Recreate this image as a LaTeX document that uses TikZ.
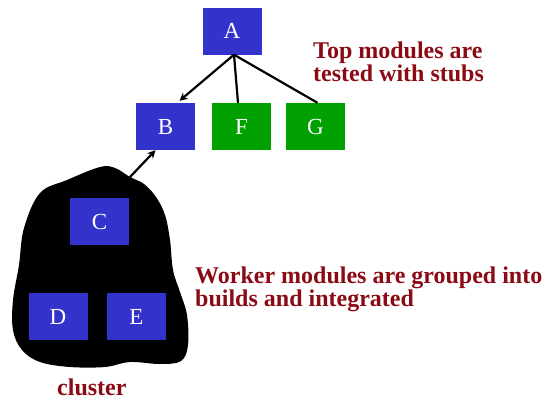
\documentclass[tikz,border=0pt]{standalone}
\usepackage{fontspec}
\setmainfont{Liberation Serif}
\usetikzlibrary{arrows.meta,positioning}
\definecolor{modblue}{HTML}{3333CC}
\definecolor{stubgreen}{HTML}{00A000}
\definecolor{notered}{HTML}{8B0A14}
\tikzset{
  modbox/.style={
    rectangle, fill=#1, text=white,
    minimum width=59pt, minimum height=47pt,
    font=\fontsize{23}{24}\selectfont, inner sep=0pt
  },
  modbox/.default=modblue,
  callline/.style={line width=2.2pt, color=black},
  callarrow/.style={-{Stealth[length=8pt,width=8pt]}, line width=2.2pt, color=black},
  note/.style={
    text=notered, font=\fontsize{24}{23}\selectfont\bfseries,
    align=left, inner sep=0pt
  },
}
\begin{document}
\begin{tikzpicture}[x=1pt, y=-1pt]
  \useasboundingbox (0,0) rectangle (554,400);
  % the cluster of worker modules
  \fill[black] plot[smooth cycle, tension=0.6] coordinates {
    (100,167) (115,168) (130,177) (144,184) (156,197) (165,215) (170,240)
    (173,270) (180,292) (187,315) (188,345) (181,361) (160,364) (130,362)
    (105,367) (70,367) (40,362) (22,350) (13,330) (13,300) (19,265)
    (24,228) (40,193) (67,180)};
  \coordinate (cl) at (130,177);
  % modules
  \node[modbox] (A) at (232,31) {A};
  \node[modbox] (B) at (165.5,126.5) {B};
  \node[modbox=stubgreen] (F) at (241.5,126.5) {F};
  \node[modbox=stubgreen] (G) at (315.5,126.5) {G};
  \node[modbox] (C) at (99.5,221.5) {C};
  \node[modbox] (D) at (58,316.5) {D};
  \node[modbox] (E) at (136.5,316.5) {E};
  % calls from the top module
  \draw[callarrow] ([xshift=2pt]A.south) -- ([xshift=14pt, yshift=2pt]B.north);
  \draw[callline] ([xshift=2pt]A.south) -- ([xshift=-3.5pt]F.north);
  \draw[callline] ([xshift=2pt]A.south) -- ([xshift=2pt]G.north);
  \draw[callarrow] (cl) -- ([xshift=-10pt]B.south);
  % notes
  \node[note, anchor=north west] (top) at (313,42) {Top modules are\\tested with stubs};
  \node[note, anchor=north west] (work) at (195,267) {Worker modules are grouped into\\builds and integrated};
  \node[note, anchor=base west] (clname) at (57,395) {cluster};
\end{tikzpicture}
\end{document}
